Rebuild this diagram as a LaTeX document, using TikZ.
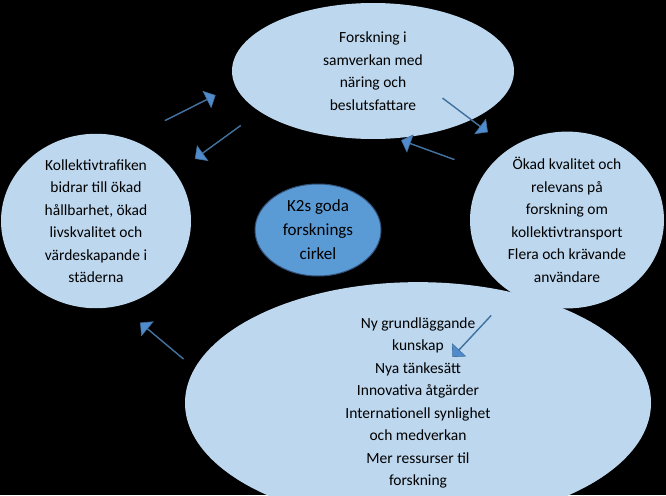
\documentclass[tikz,border=0pt]{standalone}
\usepackage{fontspec}
\setmainfont{Carlito}
\usetikzlibrary{shapes.arrows,shapes.geometric}
\begin{document}
\begin{tikzpicture}[x=1pt,y=-1pt,
  bub/.style={ellipse,fill={rgb,255:red,189;green,215;blue,238},draw=none,align=center,font=\fontsize{15.5}{22.5}\selectfont,inner sep=0pt},
  blk/.style={single arrow,fill={rgb,255:red,79;green,139;blue,205},draw={rgb,255:red,65;green,113;blue,156},line width=0.6pt,minimum height=56pt,minimum width=18pt,single arrow head extend=7pt,single arrow head indent=0pt,inner sep=0pt}]
\fill[black] (0,0) rectangle (666,495);
\useasboundingbox (0,0) rectangle (666,495);
\node[bub,minimum width=282pt,minimum height=136pt] (top) at (373,71) {Forskning i\\samverkan med\\näring och\\beslutsfattare};
\node[bub,minimum width=190pt,minimum height=160pt] (left) at (96,221) {Kollektivtrafiken\\bidrar till ökad\\hållbarhet, ökad\\livskvalitet och\\värdeskapande i\\städerna};
\node[bub,minimum width=194pt,minimum height=162pt] (right) at (567,220) {Ökad kvalitet och\\relevans på\\forskning om\\kollektivtransport\\Flera och krävande\\användare};
\node[bub,minimum width=466pt,minimum height=188pt] (bot) at (418,403) {Ny grundläggande\\kunskap\\Nya tänkesätt\\Innovativa åtgärder\\Internationell synlighet\\och medverkan\\Mer ressurser til\\forskning};
\node[ellipse,fill={rgb,255:red,91;green,155;blue,213},draw={rgb,255:red,50;green,80;blue,120},line width=1pt,minimum width=126pt,minimum height=92pt,align=center,font=\fontsize{17}{24}\selectfont,inner sep=0pt] (mid) at (318,230) {K2s goda\\forsknings\\cirkel};
\node[blk,rotate=26.6] (a1) at (190,108) {};
\node[blk,rotate=216] (a2) at (218,142) {};
\node[blk,rotate=-37] (a3) at (465,115) {};
\node[blk,rotate=160] (a4) at (428,150) {};
\node[blk,rotate=227] (a5) at (472,336) {};
\node[blk,rotate=140] (a6) at (162,341) {};
\end{tikzpicture}
\end{document}
